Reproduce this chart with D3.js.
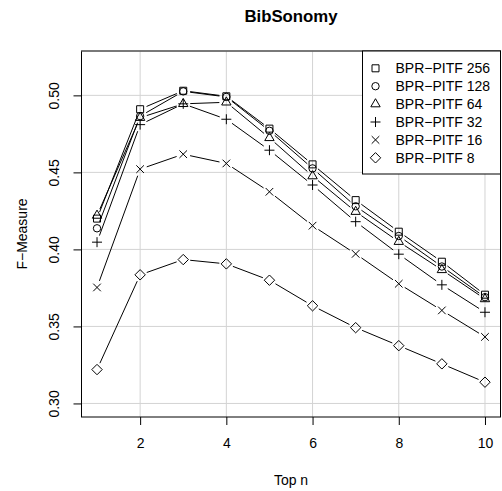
<!DOCTYPE html>
<html>
<head>
<meta charset="utf-8">
<script src="https://cdn.jsdelivr.net/npm/d3@7"></script>
<style>
  body { margin: 0; background: #fff; }
  text { font-family: "Liberation Sans", Arial, sans-serif; fill: #000; }
</style>
</head>
<body>
<script>
// Chart data
var topN = [1, 2, 3, 4, 5, 6, 7, 8, 9, 10];
var seriesNames = ["BPR\u2212PITF 256", "BPR\u2212PITF 128", "BPR\u2212PITF 64",
                   "BPR\u2212PITF 32", "BPR\u2212PITF 16", "BPR\u2212PITF 8"];
var pitf256 = [0.420, 0.491, 0.503, 0.4994, 0.4784, 0.4552, 0.432, 0.4115, 0.392, 0.3706];
var pitf128 = [0.4137, 0.4865, 0.5026, 0.499, 0.477, 0.4526, 0.428, 0.4087, 0.3889, 0.369];
var pitf64 = [0.422, 0.4855, 0.4945, 0.4955, 0.4724, 0.4476, 0.4245, 0.405, 0.3867, 0.3678];
var pitf32 = [0.4047, 0.481, 0.4945, 0.4845, 0.4644, 0.4418, 0.418, 0.3969, 0.377, 0.3592];
var pitf16 = [0.3753, 0.4521, 0.4618, 0.4558, 0.4374, 0.4154, 0.3971, 0.3777, 0.3604, 0.3432];
var pitf8 = [0.322, 0.3835, 0.3934, 0.3906, 0.380, 0.3634, 0.3492, 0.3375, 0.3257, 0.3138];
var xTicks = [2, 4, 6, 8, 10];
var yTicks = [0.30, 0.35, 0.40, 0.45, 0.50];

var allSeries = [pitf256, pitf128, pitf64, pitf32, pitf16, pitf8];
var shapes = ["square", "circle", "triangle", "plus", "times", "diamond"];

// SVG area and plot region
var svgWidth = 502;
var svgHeight = 491;
var margin = { top: 51, right: 1.5, bottom: 74, left: 81.5 };
var chartWidth = svgWidth - margin.left - margin.right;
var chartHeight = svgHeight - margin.top - margin.bottom;

var svg = d3.select("body")
  .append("svg")
  .attr("width", svgWidth)
  .attr("height", svgHeight);

var chartGroup = svg.append("g")
  .attr("transform", "translate(" + margin.left + ", " + margin.top + ")");

// R style scales: limits padded by 4%
var xScale = d3.scaleLinear().domain([0.64, 10.36]).range([0, chartWidth]);
var yScale = d3.scaleLinear().domain([0.2912, 0.5288]).range([chartHeight, 0]);

// Grid lines
chartGroup.selectAll(".vgrid")
  .data(xTicks)
  .enter()
  .append("line")
  .attr("x1", function (d) { return xScale(d); })
  .attr("x2", function (d) { return xScale(d); })
  .attr("y1", 0)
  .attr("y2", chartHeight)
  .attr("stroke", "#d3d3d3")
  .attr("stroke-width", 1);

chartGroup.selectAll(".hgrid")
  .data(yTicks)
  .enter()
  .append("line")
  .attr("x1", 0)
  .attr("x2", chartWidth)
  .attr("y1", function (d) { return yScale(d); })
  .attr("y2", function (d) { return yScale(d); })
  .attr("stroke", "#d3d3d3")
  .attr("stroke-width", 1);

// Axes
var bottomAxis = d3.axisBottom(xScale).tickValues(xTicks).tickSize(8).tickPadding(13)
  .tickFormat(d3.format("d"));
var leftAxis = d3.axisLeft(yScale).tickValues(yTicks).tickSize(8)
  .tickFormat(d3.format(".2f"));

var xAxisG = chartGroup.append("g")
  .attr("transform", "translate(0, " + chartHeight + ")")
  .call(bottomAxis);
xAxisG.select(".domain").remove();
xAxisG.selectAll("text").style("font-size", "14px").style("font-family", "Liberation Sans, Arial, sans-serif");

var yAxisG = chartGroup.append("g").call(leftAxis);
yAxisG.select(".domain").remove();
yAxisG.selectAll("text")
  .style("font-size", "14px")
  .style("font-family", "Liberation Sans, Arial, sans-serif")
  .attr("x", 0)
  .attr("dy", null)
  .attr("text-anchor", "middle")
  .attr("transform", "translate(-23, 0) rotate(-90)");

// Plot frame
chartGroup.append("rect")
  .attr("x", 0)
  .attr("y", 0)
  .attr("width", chartWidth)
  .attr("height", chartHeight)
  .attr("fill", "none")
  .attr("stroke", "#000")
  .attr("stroke-width", 1);
chartGroup.append("line")
  .attr("x1", 0).attr("x2", chartWidth).attr("y1", 0).attr("y2", 0)
  .attr("stroke", "#777").attr("stroke-width", 1.5);

// Marker paths
function markerPath(shape) {
  if (shape === "square") return d3.symbol().type(d3.symbolSquare).size(49)();
  if (shape === "circle") return d3.symbol().type(d3.symbolCircle).size(Math.PI * 3.7 * 3.7)();
  if (shape === "triangle") return d3.symbol().type(d3.symbolTriangle).size(38)();
  if (shape === "plus") return "M-5,0H5M0,-5V5";
  if (shape === "times") return "M-3.8,-3.8L3.8,3.8M-3.8,3.8L3.8,-3.8";
  return "M0,-5.2L5.2,0L0,5.2L-5.2,0Z";
}

// Line segments with gaps around the points (type = "b")
var gap = 7;
allSeries.forEach(function (values, i) {
  var pts = topN.map(function (n, j) { return [xScale(n), yScale(values[j])]; });
  var segs = [];
  for (var j = 0; j < pts.length - 1; j++) {
    var a = pts[j], b = pts[j + 1];
    var dx = b[0] - a[0], dy = b[1] - a[1];
    var len = Math.sqrt(dx * dx + dy * dy);
    if (len <= 2 * gap) continue;
    var ux = dx / len, uy = dy / len;
    segs.push([a[0] + ux * gap, a[1] + uy * gap, b[0] - ux * gap, b[1] - uy * gap]);
  }
  chartGroup.selectAll(".seg" + i)
    .data(segs)
    .enter()
    .append("line")
    .attr("x1", function (d) { return d[0]; })
    .attr("y1", function (d) { return d[1]; })
    .attr("x2", function (d) { return d[2]; })
    .attr("y2", function (d) { return d[3]; })
    .attr("stroke", "#000")
    .attr("stroke-width", 1);

  chartGroup.selectAll(".pt" + i)
    .data(values)
    .enter()
    .append("path")
    .attr("d", markerPath(shapes[i]))
    .attr("transform", function (d, j) {
      return "translate(" + xScale(topN[j]) + "," + yScale(d) + ")";
    })
    .attr("fill", "none")
    .attr("stroke", "#000")
    .attr("stroke-width", 1);
});

// Legend
var legendX = 362.5 - margin.left;
var legendG = chartGroup.append("g");
legendG.append("rect")
  .attr("x", legendX)
  .attr("y", 0)
  .attr("width", chartWidth - legendX)
  .attr("height", 123)
  .attr("fill", "#fff")
  .attr("stroke", "#000")
  .attr("stroke-width", 1);

seriesNames.forEach(function (name, i) {
  var ry = 17.3 + i * 17.9;
  legendG.append("path")
    .attr("d", markerPath(shapes[i]))
    .attr("transform", "translate(" + (legendX + 13) + "," + ry + ")")
    .attr("fill", "none")
    .attr("stroke", "#000");
  legendG.append("text")
    .attr("x", legendX + 33)
    .attr("y", ry + 5)
    .style("font-size", "14px")
    .text(name);
});

// Titles
svg.append("text")
  .attr("x", margin.left + chartWidth / 2)
  .attr("y", 22)
  .attr("text-anchor", "middle")
  .style("font-size", "16.8px")
  .style("font-weight", "bold")
  .text("BibSonomy");

svg.append("text")
  .attr("x", margin.left + chartWidth / 2)
  .attr("y", 485)
  .attr("text-anchor", "middle")
  .style("font-size", "14px")
  .text("Top n");

svg.append("text")
  .attr("transform", "translate(27, " + (margin.top + chartHeight / 2) + ") rotate(-90)")
  .attr("text-anchor", "middle")
  .style("font-size", "14px")
  .text("F\u2212Measure");
</script>
</body>
</html>
